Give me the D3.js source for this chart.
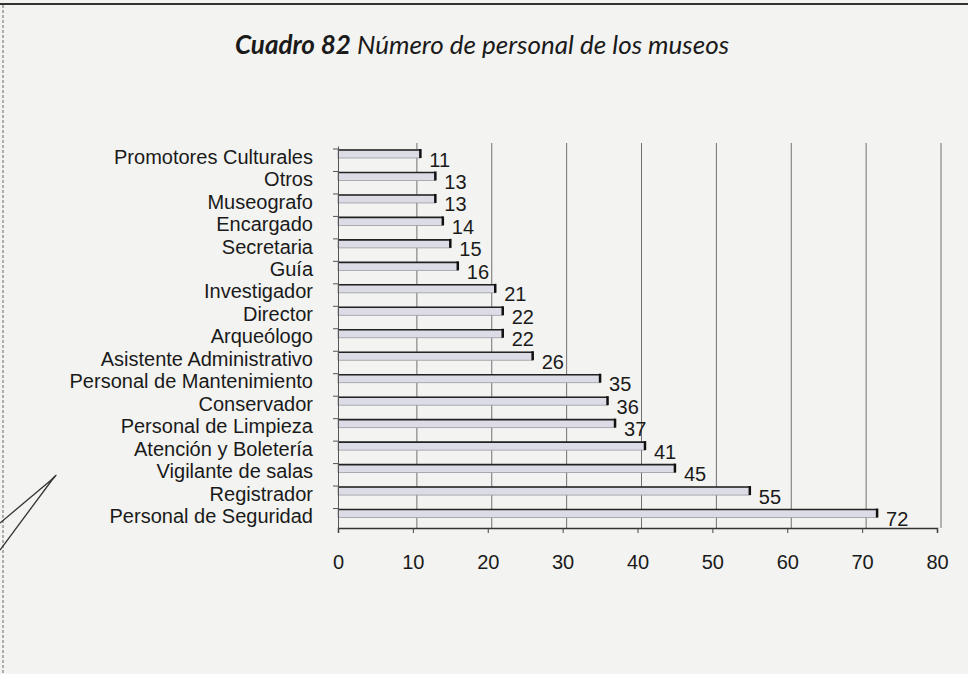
<!DOCTYPE html>
<html>
<head>
<meta charset="utf-8">
<script src="https://cdn.jsdelivr.net/npm/d3@7.9.0/dist/d3.min.js"></script>
<style>
  body { margin: 0; background: #f3f3f1; }
  svg { display: block; }
  text { font-family: "Liberation Sans", Arial, sans-serif; fill: #1a1a1a; }
</style>
</head>
<body>
<svg width="968" height="674"></svg>
<script>
const categories = [
  'Promotores Culturales', 'Otros', 'Museografo', 'Encargado', 'Secretaria',
  'Guía', 'Investigador', 'Director', 'Arqueólogo', 'Asistente Administrativo',
  'Personal de Mantenimiento', 'Conservador', 'Personal de Limpieza',
  'Atención y Boletería', 'Vigilante de salas', 'Registrador', 'Personal de Seguridad'
];
const values = [11, 13, 13, 14, 15, 16, 21, 22, 22, 26, 35, 36, 37, 41, 45, 55, 72];
const xTicks = [0, 10, 20, 30, 40, 50, 60, 70, 80];

const svg = d3.select('svg');

// scanned page frame
svg.append('line').attr('x1', 0).attr('x2', 968).attr('y1', 4).attr('y2', 4)
  .attr('stroke', '#333').attr('stroke-width', 2);
svg.append('line').attr('x1', 3).attr('x2', 3).attr('y1', 5).attr('y2', 674)
  .attr('stroke', '#666').attr('stroke-width', 1).attr('stroke-dasharray', '3,2');

// title
const title = svg.append('text')
  .attr('x', 482).attr('y', 54)
  .attr('text-anchor', 'middle')
  .style('font-family', 'Lato, sans-serif')
  .style('font-size', '26px').style('font-style', 'italic');
title.append('tspan').style('font-weight', 'bold').text('Cuadro 82');
title.append('tspan').text(' Número de personal de los museos');

const x = d3.scaleLinear().domain([0, 80]).range([338, 937]);
const y = d3.scaleBand().domain(categories).range([146, 528]);

// gridlines
svg.append('g').selectAll('line')
  .data(xTicks.slice(1))
  .join('line')
  .attr('x1', d => x(d) + 4).attr('x2', d => x(d) + 4)
  .attr('y1', 143).attr('y2', 528)
  .attr('stroke', '#707070').attr('stroke-width', 1);

// bars
const bars = svg.append('g').selectAll('g')
  .data(categories)
  .join('g');

bars.append('rect')
  .attr('x', x(0))
  .attr('y', d => y(d) + 4)
  .attr('width', (d, i) => x(values[i]) - x(0))
  .attr('height', 8)
  .attr('fill', '#dcdce6')
  .attr('stroke', '#9a9aa2')
  .attr('stroke-width', 0.8);

bars.append('line')
  .attr('x1', x(0)).attr('x2', (d, i) => x(values[i]))
  .attr('y1', d => y(d) + 4).attr('y2', d => y(d) + 4)
  .attr('stroke', '#222').attr('stroke-width', 1.6);

bars.append('line')
  .attr('x1', (d, i) => x(values[i])).attr('x2', (d, i) => x(values[i]))
  .attr('y1', d => y(d) + 3).attr('y2', d => y(d) + 12)
  .attr('stroke', '#111').attr('stroke-width', 2.5);

bars.append('text')
  .attr('x', (d, i) => x(values[i]) + 9)
  .attr('y', d => y(d) + y.bandwidth() / 2 + 4)
  .attr('dominant-baseline', 'middle')
  .style('font-size', '20px')
  .text((d, i) => values[i]);

// axes
const xAxis = svg.append('g')
  .attr('transform', 'translate(0,528)')
  .call(d3.axisBottom(x).tickValues(xTicks).tickSize(5).tickPadding(22));
xAxis.select('.domain').attr('stroke', '#333').attr('stroke-width', 1.5);
xAxis.selectAll('.tick line').attr('stroke', '#444');
xAxis.selectAll('.tick text')
  .style('font-family', '"Liberation Sans", Arial, sans-serif')
  .style('font-size', '20px').attr('fill', '#1a1a1a');

const yAxis = svg.append('g')
  .attr('transform', 'translate(338,0)')
  .call(d3.axisLeft(y).tickSize(0).tickPadding(25));
yAxis.select('.domain').attr('stroke', '#555').attr('stroke-width', 1);
yAxis.selectAll('.tick text')
  .style('font-family', '"Liberation Sans", Arial, sans-serif')
  .style('font-size', '20px').attr('fill', '#1a1a1a');

// small marks at band boundaries
svg.append('g').selectAll('line')
  .data(categories)
  .join('line')
  .attr('x1', 333).attr('x2', 338)
  .attr('y1', d => y(d) + 3).attr('y2', d => y(d) + 3)
  .attr('stroke', '#555');

// pen mark on the page
svg.append('path')
  .attr('d', 'M0,523 L50,481 Q61,470 52,480 L0,550')
  .attr('fill', 'none').attr('stroke', '#333').attr('stroke-width', 1.3);
</script>
</body>
</html>
